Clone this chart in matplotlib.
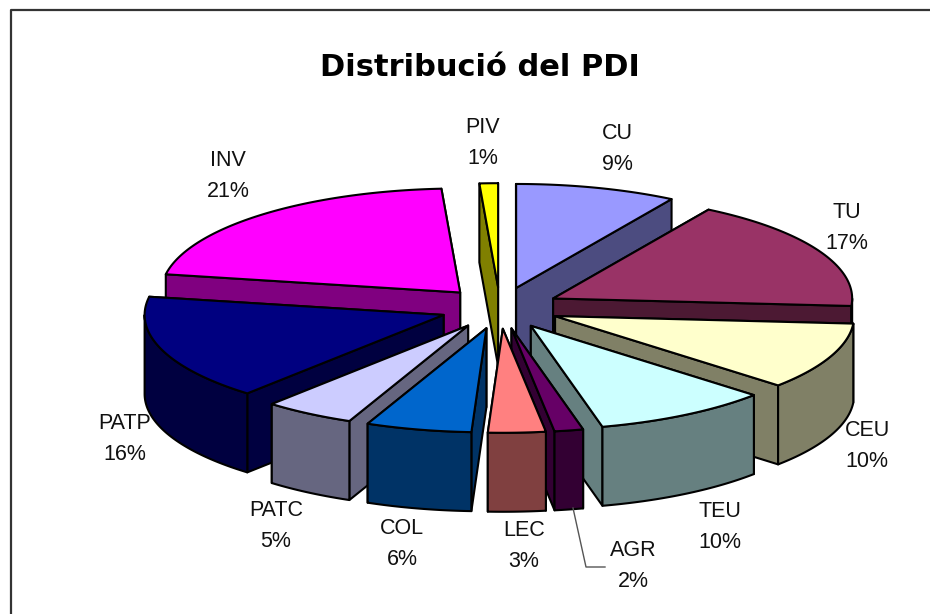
#!/usr/bin/env python
# -*- coding: utf-8 -*-

import numpy as np
from matplotlib import pyplot as plt
from matplotlib.patches import Polygon

# chart data, clockwise from 12 o'clock (labels show the rounded share)
names = ['CU', 'TU', 'CEU', 'TEU', 'AGR', 'LEC', 'COL', 'PATC', 'PATP', 'INV', 'PIV']
shares = [8.7, 17.45, 10.45, 9.55, 1.55, 3.1, 5.7, 4.9, 16.4, 21.2, 1.0]
top_colors = ['#9999FF', '#993366', '#FFFFCC', '#CCFFFF', '#660066', '#FF8080',
              '#0066CC', '#CCCCFF', '#000080', '#FF00FF', '#FFFF00']
wall_colors = ['#4C4C80', '#4C1933', '#808066', '#668080', '#330033', '#804040',
               '#003366', '#666680', '#000040', '#800080', '#808000']
label_centers = [(617, 149), (847, 228), (867, 446), (720, 527), (633, 566), (524, 546),
                 (402, 544), (276, 526), (125, 439), (228, 176), (483, 143)]

# pie geometry in pixels
cx, cy = 500, 308
rx, ry = 299, 104
depth = 79
explode = 0.2
edge = 1.5


def project(theta, x0, y0, r=1.0):
    return x0 + r * rx * np.sin(theta), y0 - r * ry * np.cos(theta)


def addPoly(ax, pts, color):
    ax.add_patch(Polygon(pts, closed=True, facecolor=color, edgecolor='black',
                         linewidth=edge, joinstyle='round'))


def drawSlice(ax, start, end, top, wall):
    mid = (start + end) / 2
    x0, y0 = project(mid, cx, cy, explode)
    ts = np.linspace(start, end, 80)
    arc = [project(t, x0, y0) for t in ts]
    apex = (x0, y0)
    a, b = arc[0], arc[-1]

    def down(p):
        return (p[0], p[1] + depth)

    # radial walls, the one facing away goes first
    wall_a = [apex, a, down(a), down(apex)]
    wall_b = [apex, b, down(b), down(apex)]
    if np.sin(mid) > 0:
        addPoly(ax, wall_a, wall)
        addPoly(ax, wall_b, wall)
    else:
        addPoly(ax, wall_b, wall)
        addPoly(ax, wall_a, wall)

    # outer wall only on the front half
    lo, hi = max(start, np.pi / 2), min(end, 3 * np.pi / 2)
    if hi > lo:
        front = [project(t, x0, y0) for t in np.linspace(lo, hi, 80)]
        addPoly(ax, front + [down(p) for p in front[::-1]], wall)

    addPoly(ax, [apex] + arc, top)


fig = plt.figure(figsize=(9.3, 6.14), dpi=100)
ax = fig.add_axes([0, 0, 1, 1])
ax.set_xlim(0, 930)
ax.set_ylim(614, 0)
ax.axis('off')

# chart frame, runs off the right and bottom of the picture
ax.plot([11, 11, 935], [620, 10, 10], color='#333333', linewidth=1.6, clip_on=True)

fractions = np.array(shares) / sum(shares)
stops = np.concatenate(([0], np.cumsum(fractions))) * 2 * np.pi
mids = (stops[:-1] + stops[1:]) / 2

# back slices first
for i in np.argsort(-np.cos(mids)):
    drawSlice(ax, stops[i], stops[i + 1], top_colors[i], wall_colors[i])

for name, share, (lx, ly) in zip(names, shares, label_centers):
    ax.text(lx, ly, f'{name}\n{share:.0f}%', ha='center', va='center', fontsize=15.5,
            family='Liberation Sans', color='#111111', linespacing=1.66)

# leader line for AGR
ax.plot([573, 586, 605], [508, 567, 567], color='#555555', linewidth=1.0)

ax.text(480, 68, 'Distribució del PDI', ha='center', va='center', fontsize=22,
        fontweight='bold', family='DejaVu Sans', color='black')

plt.savefig('out.png', dpi=100)
